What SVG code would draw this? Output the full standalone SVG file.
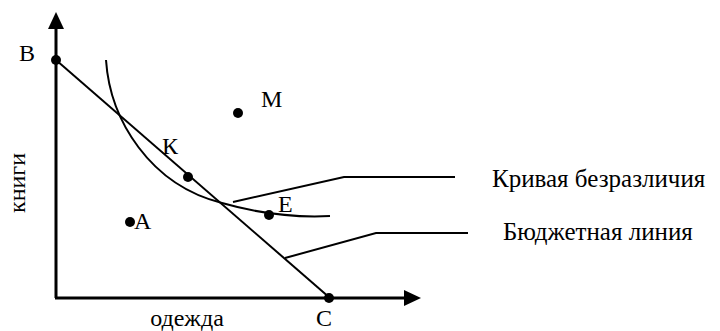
<svg xmlns="http://www.w3.org/2000/svg" width="720" height="331" viewBox="0 0 720 331">
<style>
text{font-family:"Liberation Serif","Times New Roman","DejaVu Serif",serif;font-size:24px;fill:#000}
.lg{font-size:25px}
.ln{fill:none;stroke:#000;stroke-width:2}
.ax{fill:none;stroke:#000;stroke-width:3}
.dot{fill:#000}
</style>
<rect width="720" height="331" fill="#fff"/>
<g id="axes">
<path class="ax" d="M56,298 V26"/>
<polygon points="56,12 48,29 64,29" fill="#000"/>
<path class="ax" d="M55,298 H406"/>
<polygon points="421,298 404,290 404,306" fill="#000"/>
<text transform="translate(25,183) rotate(-90)" text-anchor="middle">книги</text>
<text x="187" y="326" text-anchor="middle">одежда</text>
</g>
<g id="connectors">
<path class="ln" d="M56,60 L330,298"/>
<path class="ln" d="M106,60 C110,120 150,185 222,203 C250,211 290,218 330,216"/>
<path class="ln" d="M233,202 L344,177 H455"/>
<path class="ln" d="M285,258 L376,233 H468"/>
</g>
<g id="B"><circle class="dot" cx="56" cy="60" r="5"/><text x="19" y="61">B</text></g>
<g id="C"><circle class="dot" cx="329" cy="298" r="5"/><text x="316" y="326">C</text></g>
<g id="K"><circle class="dot" cx="188" cy="177" r="5"/><text x="162" y="154">К</text></g>
<g id="E"><circle class="dot" cx="269" cy="215" r="5"/><text x="278" y="212">E</text></g>
<g id="A"><circle class="dot" cx="130" cy="222" r="5"/><text x="134" y="229">A</text></g>
<g id="M"><circle class="dot" cx="238" cy="113" r="5"/><text x="261" y="107">M</text></g>
<g id="legend-curve"><text class="lg" x="492" y="187">Кривая безразличия</text></g>
<g id="legend-budget"><text class="lg" x="503" y="240">Бюджетная линия</text></g>
</svg>
